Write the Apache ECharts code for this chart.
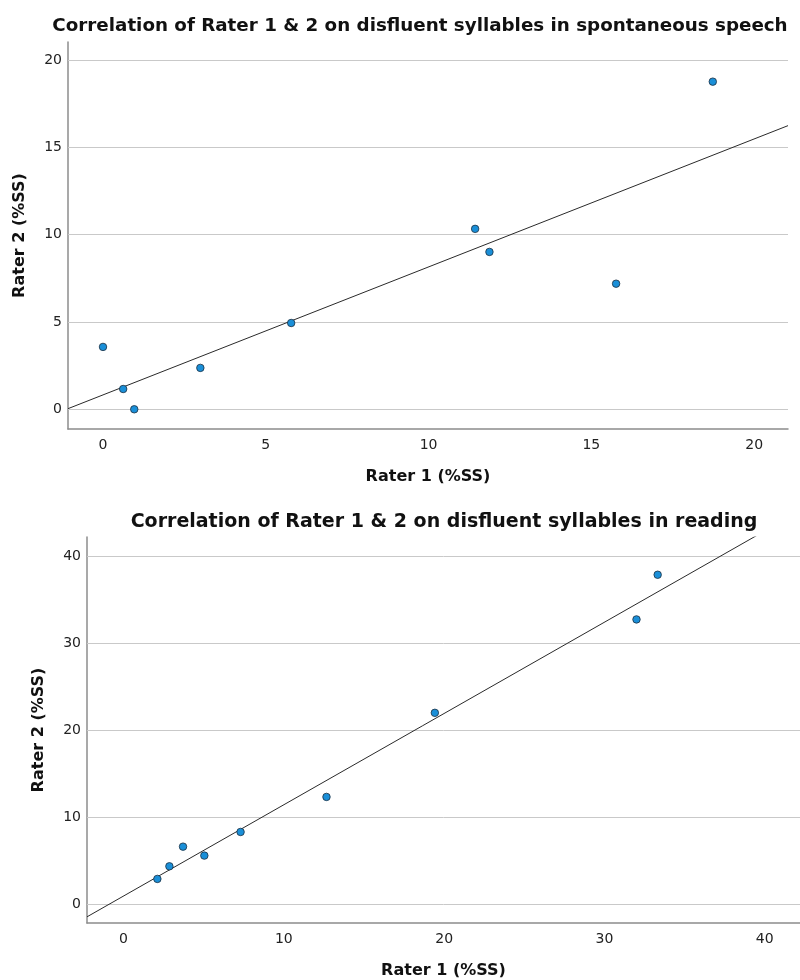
<!DOCTYPE html>
<html><head><meta charset="utf-8">
<script src="https://cdn.jsdelivr.net/npm/echarts@6/dist/echarts.min.js"></script>
<style>html,body{margin:0;padding:0;background:#fff}#c{width:800px;height:980px}</style>
</head><body><div id="c"></div>
<script>
// ---- data ----
const speechTitle = 'Correlation of Rater 1 & 2 on disfluent syllables in spontaneous speech';
const readingTitle = 'Correlation of Rater 1 & 2 on disfluent syllables in reading';
const xName = 'Rater 1 (%SS)';
const yName = 'Rater 2 (%SS)';
const speechRater1 = [0, 0.62, 0.96, 2.99, 5.78, 11.43, 11.87, 15.76, 18.73];
const speechRater2 = [3.57, 1.16, 0, 2.37, 4.94, 10.33, 9.01, 7.19, 18.76];
const readingRater1 = [2.11, 2.86, 3.71, 5.04, 7.30, 12.66, 19.42, 32.0, 33.32];
const readingRater2 = [2.88, 4.33, 6.59, 5.56, 8.28, 12.31, 21.98, 32.72, 37.86];
const speechTicks = [0, 5, 10, 15, 20];
const readingTicks = [0, 10, 20, 30, 40];
const speechRange = {xmin: -1.075, xmax: 21.04, ymin: -1.13, ymax: 21.03};
const readingRange = {xmin: -2.28, xmax: 42.2, ymin: -2.19, ymax: 42.2};

function fit(xs, ys) {
  const n = xs.length;
  const mx = xs.reduce((a, b) => a + b, 0) / n;
  const my = ys.reduce((a, b) => a + b, 0) / n;
  let sxy = 0, sxx = 0;
  for (let i = 0; i < n; i++) { sxy += (xs[i] - mx) * (ys[i] - my); sxx += (xs[i] - mx) ** 2; }
  const b = sxy / sxx;
  return {a: my - b * mx, b};
}
const zip = (xs, ys) => xs.map((x, i) => [x, ys[i]]);

const FONT = 'DejaVu Sans';
const gridColor = '#c9c9c9';
const axisColor = '#8c8c8c';

function xAxis(gi, r, ticks) {
  return {
    type: 'value', gridIndex: gi, min: r.xmin, max: r.xmax,
    name: xName, nameLocation: 'middle', nameGap: 40,
    nameTextStyle: {fontFamily: FONT, fontWeight: 'bold', fontSize: 16, color: '#111'},
    axisLine: {show: true, onZero: false, lineStyle: {color: axisColor, width: 1.5}},
    axisTick: {show: false},
    splitLine: {show: false},
    axisLabel: {customValues: ticks, fontFamily: FONT, fontSize: 14, color: '#222', margin: 9}
  };
}
function yAxis(gi, r, ticks) {
  return {
    type: 'value', gridIndex: gi, min: r.ymin, max: r.ymax,
    name: yName, nameLocation: 'middle', nameGap: 40,
    nameTextStyle: {fontFamily: FONT, fontWeight: 'bold', fontSize: 16, color: '#111'},
    axisLine: {show: true, onZero: false, lineStyle: {color: axisColor, width: 1.5}},
    axisTick: {show: false},
    splitLine: {show: false},
    axisLabel: {customValues: ticks, fontFamily: FONT, fontSize: 14, color: '#222', margin: 6}
  };
}
function scatter(gi, xs, ys, ticks) {
  return {
    type: 'scatter', xAxisIndex: gi, yAxisIndex: gi, data: zip(xs, ys),
    symbolSize: 7.5, z: 5,
    itemStyle: {color: '#1a8fd8', borderColor: '#1c2e40', borderWidth: 0.8, opacity: 1},
    markLine: {
      silent: true, symbol: 'none', animation: false, z: 1,
      label: {show: false},
      lineStyle: {color: gridColor, type: 'solid', width: 1},
      data: ticks.map(t => ({yAxis: t}))
    }
  };
}
function fitLine(gi, xs, ys, r) {
  const f = fit(xs, ys);
  return {
    type: 'line', xAxisIndex: gi, yAxisIndex: gi, clip: true, symbol: 'none', z: 4,
    lineStyle: {color: '#2a2a2a', width: 1},
    data: [[r.xmin, f.a + f.b * r.xmin], [r.xmax, f.a + f.b * r.xmax]]
  };
}

const chart = echarts.init(document.getElementById('c'), null, {renderer: 'canvas'});
chart.setOption({
  animation: false,
  backgroundColor: '#fff',
  title: [
    {text: speechTitle, left: 415, top: 12, textAlign: 'center',
     textStyle: {fontFamily: FONT, fontWeight: 'bold', fontSize: 18.3, color: '#111'}},
    {text: readingTitle, left: 439, top: 508, textAlign: 'center',
     textStyle: {fontFamily: FONT, fontWeight: 'bold', fontSize: 19, color: '#111'}}
  ],
  grid: [
    {left: 68, top: 42, width: 720, height: 387},
    {left: 87, top: 537, width: 715, height: 386}
  ],
  xAxis: [xAxis(0, speechRange, speechTicks), xAxis(1, readingRange, readingTicks)],
  yAxis: [yAxis(0, speechRange, speechTicks), yAxis(1, readingRange, readingTicks)],
  series: [
    scatter(0, speechRater1, speechRater2, speechTicks),
    fitLine(0, speechRater1, speechRater2, speechRange),
    scatter(1, readingRater1, readingRater2, readingTicks),
    fitLine(1, readingRater1, readingRater2, readingRange)
  ]
});
</script></body></html>
